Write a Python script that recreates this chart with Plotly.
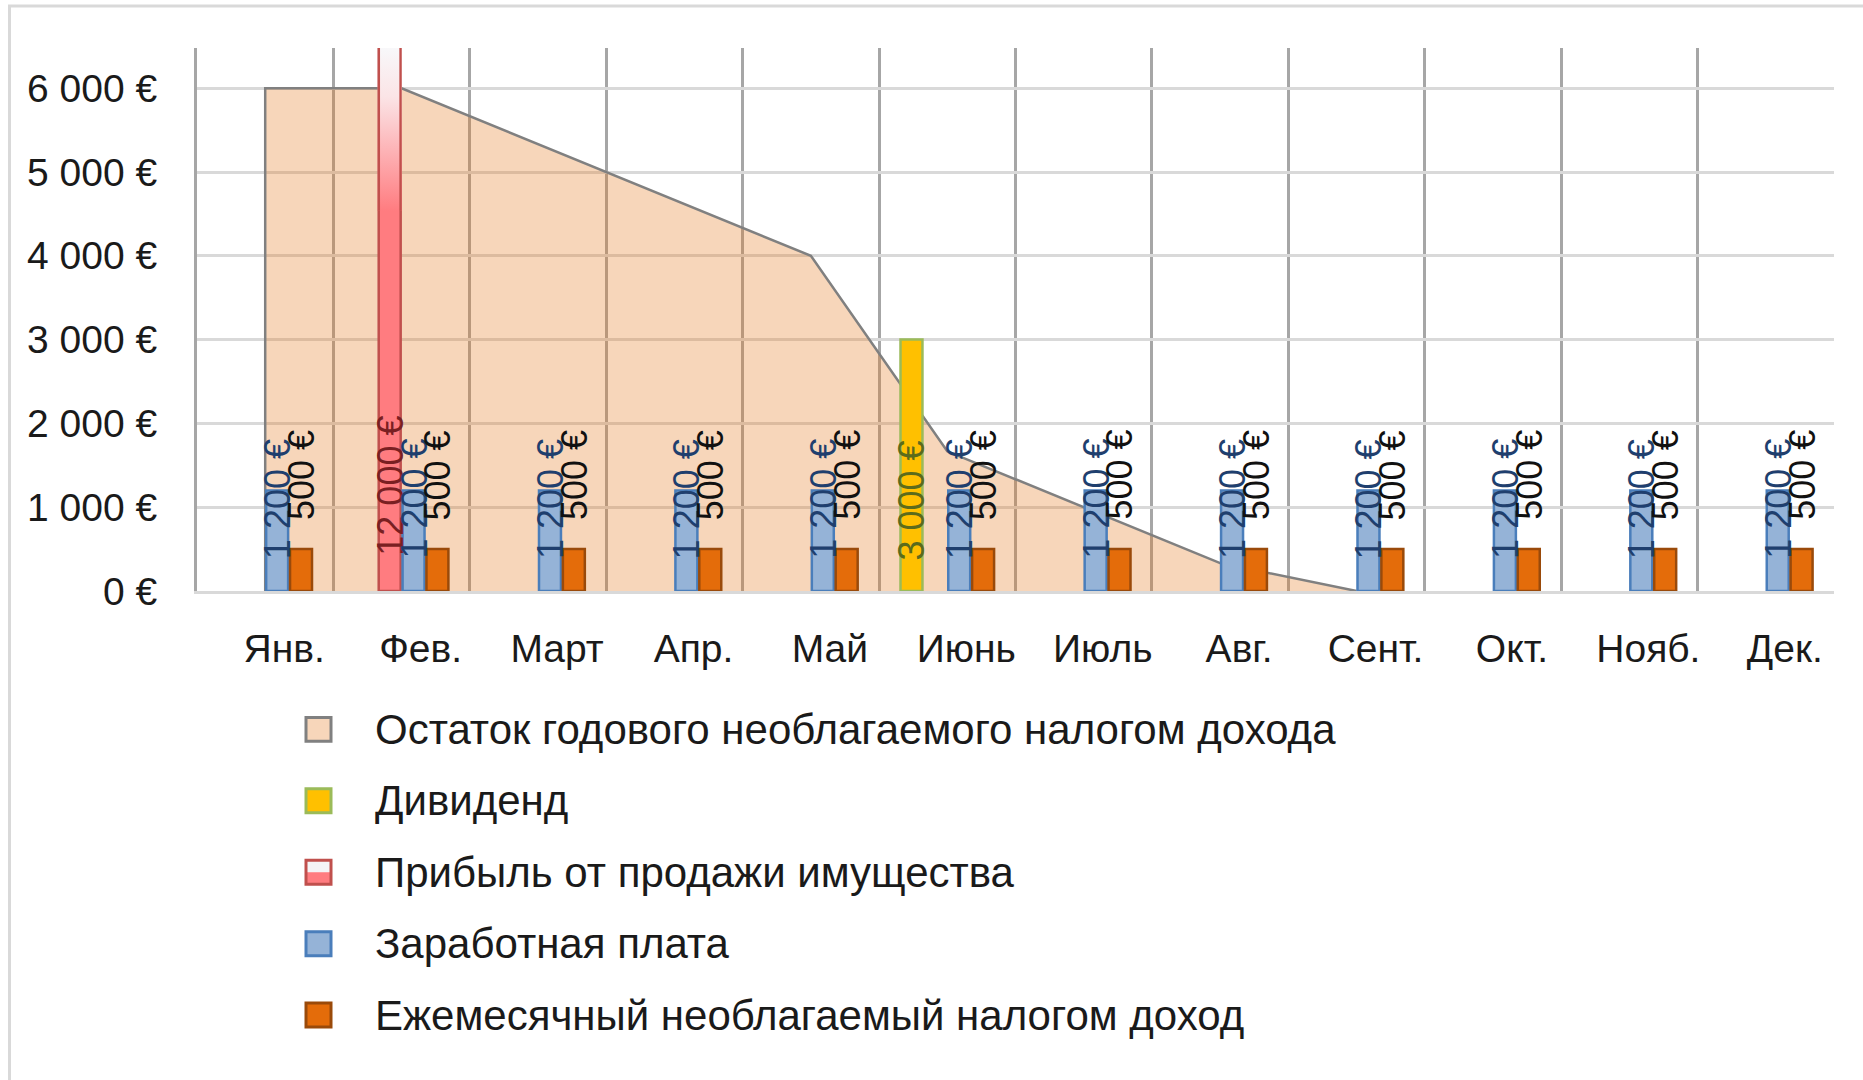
import base64
import plotly.graph_objects as go

# ---------------- data ----------------
months = ["Янв.", "Фев.", "Март", "Апр.", "Май", "Июнь", "Июль", "Авг.", "Сент.", "Окт.", "Нояб.", "Дек."]
remaining_allowance = [6000, 6000, 5333, 4667, 4000, 1667, 1000, 333, 0, None, None, None]
dividend = [None, None, None, None, None, 3000, None, None, None, None, None, None]
asset_sale_profit = [None, 12000, None, None, None, None, None, None, None, None, None, None]
salary = [1200, 1200, 1200, 1200, 1200, 1200, 1200, 1200, 1200, 1200, 1200, 1200]
monthly_allowance = [500, 500, 500, 500, 500, 500, 500, 500, 500, 500, 500, 500]

series_names = [
    "Остаток годового необлагаемого налогом дохода",
    "Дивиденд",
    "Прибыль от продажи имущества",
    "Заработная плата",
    "Ежемесячный необлагаемый налогом доход",
]
y_ticks = [0, 1000, 2000, 3000, 4000, 5000, 6000]
y_tick_labels = ["0 €", "1 000 €", "2 000 €", "3 000 €", "4 000 €", "5 000 €", "6 000 €"]

# ---------------- geometry / style ----------------
W, H = 1863, 1080
L, R, T, B = 197, 1834, 48, 591.5
Y_MAX = 6480
FONT = "Liberation Sans, Arial, sans-serif"
TXT = "#1a1a1a"


def px_x(p):
    return (p - L) / (R - L)


def px_y(p):
    return (B - p) / (B - T)


def fmt(v):
    return f"{v:,}".replace(",", " ") + " €"


fig = go.Figure()

# area (main axes, drawn underneath the bars)
fig.add_trace(go.Scatter(
    x=[months[0]] + months,
    y=[0] + remaining_allowance,
    mode="lines",
    fill="tozeroy",
    fillcolor="rgba(228,118,25,0.30)",
    line=dict(color="#808080", width=2.5),
    name=series_names[0],
    showlegend=False,
    hoverinfo="skip",
))

bar_series = [
    (dividend, series_names[1], "#FFC000", "#9BBB59"),
    (asset_sale_profit, series_names[2], "#FF7C80", "#C0504D"),
    (salary, series_names[3], "#95B3D7", "#4A7EBB"),
    (monthly_allowance, series_names[4], "#E46C0A", "#9A4A0A"),
]
for vals, name, fc, lc in bar_series:
    fig.add_trace(go.Bar(
        x=months, y=vals, name=name, xaxis="x2", yaxis="y2",
        marker=dict(color=fc, line=dict(color=lc, width=2.5)),
        showlegend=False, hoverinfo="skip",
    ))

BARGAP = 0.3
GROUPGAP = 0.08
n_slots = len(bar_series)
slot = (1 - BARGAP) / n_slots
offsets = [-(1 - BARGAP) / 2 + slot * (k + 0.5) for k in range(n_slots)]

annotations = []
label_styles = [
    (0, "#5b6b1c", False, 29),
    (1, "#7a1f22", False, 33),
    (2, "#1F3F6E", False, 30),
    (3, "#111111", True, 27),
]
for k, color, on_top, yshift in label_styles:
    vals = bar_series[k][0]
    for i, v in enumerate(vals):
        if v is None:
            continue
        annotations.append(dict(
            x=i + offsets[k], y=(v if on_top else 0), xref="x2", yref="y2",
            text=fmt(v), textangle=-90, showarrow=False,
            xanchor="center", yanchor="bottom", yshift=yshift,
            font=dict(family=FONT, size=36, color=color),
        ))

# gradient overlay on the upper (visible) part of the tall red bar
svg = ('<svg xmlns="http://www.w3.org/2000/svg" width="100" height="100" preserveAspectRatio="none" '
       'viewBox="0 0 100 100"><defs><linearGradient id="g" x1="0" y1="0" x2="0" y2="1">'
       '<stop offset="0" stop-color="#F8F8FA"/><stop offset="0.3" stop-color="#FBE4E6"/>'
       '<stop offset="1" stop-color="#FF7C80"/>'
       '</linearGradient></defs><rect x="0" y="0" width="100" height="100" fill="url(#g)"/>'
       '<rect x="0" y="0" width="10" height="100" fill="#C0504D"/>'
       '<rect x="90" y="0" width="10" height="100" fill="#C0504D"/></svg>')
images = []
for i, v in enumerate(asset_sale_profit):
    if v is None or v <= Y_MAX:
        continue
    bar_w = slot * (1 - GROUPGAP)
    images.append(dict(
        source="data:image/svg+xml;base64," + base64.b64encode(svg.encode()).decode(),
        xref="x2", yref="y2", x=i + offsets[1], y=Y_MAX,
        sizex=bar_w * 1.1, sizey=Y_MAX * 0.3,
        xanchor="center", yanchor="top", sizing="stretch", layer="above",
    ))

# custom legend
shapes = []
leg_rows = [730, 801.5, 873, 944.5, 1016]
sym_x0, sym_x1 = 306, 331
leg_styles = [
    ("#F7D6BA", "#808080"),
    ("#FFC000", "#9BBB59"),
    ("#FF7C80", "#C0504D"),
    ("#95B3D7", "#4A7EBB"),
    ("#E46C0A", "#9A4A0A"),
]
for j, (row, (fc, lc)) in enumerate(zip(leg_rows, leg_styles)):
    shapes.append(dict(type="rect", xref="paper", yref="paper",
                       x0=px_x(sym_x0), x1=px_x(sym_x1), y0=px_y(row + 12), y1=px_y(row - 12),
                       fillcolor=fc, line=dict(width=0)))
    if j == 2:
        shapes.append(dict(type="rect", xref="paper", yref="paper",
                           x0=px_x(sym_x0), x1=px_x(sym_x1), y0=px_y(row), y1=px_y(row - 12),
                           fillcolor="#F4F4F6", line=dict(width=0)))
    shapes.append(dict(type="rect", xref="paper", yref="paper",
                       x0=px_x(sym_x0), x1=px_x(sym_x1), y0=px_y(row + 12), y1=px_y(row - 12),
                       fillcolor="rgba(0,0,0,0)", line=dict(color=lc, width=3)))
    annotations.append(dict(
        x=px_x(373), y=px_y(row), xref="paper", yref="paper",
        text=series_names[j], showarrow=False, xanchor="left", yanchor="middle",
        font=dict(family=FONT, size=42, color=TXT),
    ))

# chart-area border (left and top visible)
shapes.append(dict(type="rect", xref="paper", yref="paper",
                   x0=px_x(9.5), x1=px_x(W + 40), y0=px_y(H + 40), y1=px_y(6),
                   fillcolor="rgba(0,0,0,0)", line=dict(color="#D9D9D9", width=3)))

axis_common = dict(type="category", categoryorder="array", categoryarray=months, range=[-0.5, 11.5])

fig.update_layout(
    width=W, height=H,
    margin=dict(l=L, r=W - R, t=T, b=H - B, autoexpand=False),
    paper_bgcolor="white", plot_bgcolor="white",
    font=dict(family=FONT, size=39, color=TXT),
    barmode="group", bargap=BARGAP, bargroupgap=GROUPGAP,
    showlegend=False,
    xaxis=dict(**axis_common, tickson="boundaries", showgrid=True, gridcolor="#A6A6A6", gridwidth=3,
               showline=True, linecolor="#D9D9D9", linewidth=3, ticks="",
               tickfont=dict(size=39, color=TXT), ticklabelstandoff=21, ticklabelshift=19),
    yaxis=dict(range=[0, Y_MAX], tickvals=y_ticks, ticktext=y_tick_labels, showgrid=True,
               gridcolor="#D9D9D9", gridwidth=3, zeroline=False, showline=True,
               linecolor="#A6A6A6", linewidth=3, ticks="", ticklabelstandoff=29,
               tickfont=dict(size=39, color=TXT)),
    xaxis2=dict(**axis_common, overlaying="x", anchor="y2", showgrid=False, showline=False,
                showticklabels=False, ticks=""),
    yaxis2=dict(range=[0, Y_MAX], overlaying="y", anchor="x2", showgrid=False, zeroline=False,
                showline=False, showticklabels=False, ticks=""),
    annotations=annotations,
    shapes=shapes,
    images=images,
)

fig.write_html("out.html", config={"displayModeBar": False},
               post_script="document.body.style.margin='0';document.body.style.overflow='hidden';")
